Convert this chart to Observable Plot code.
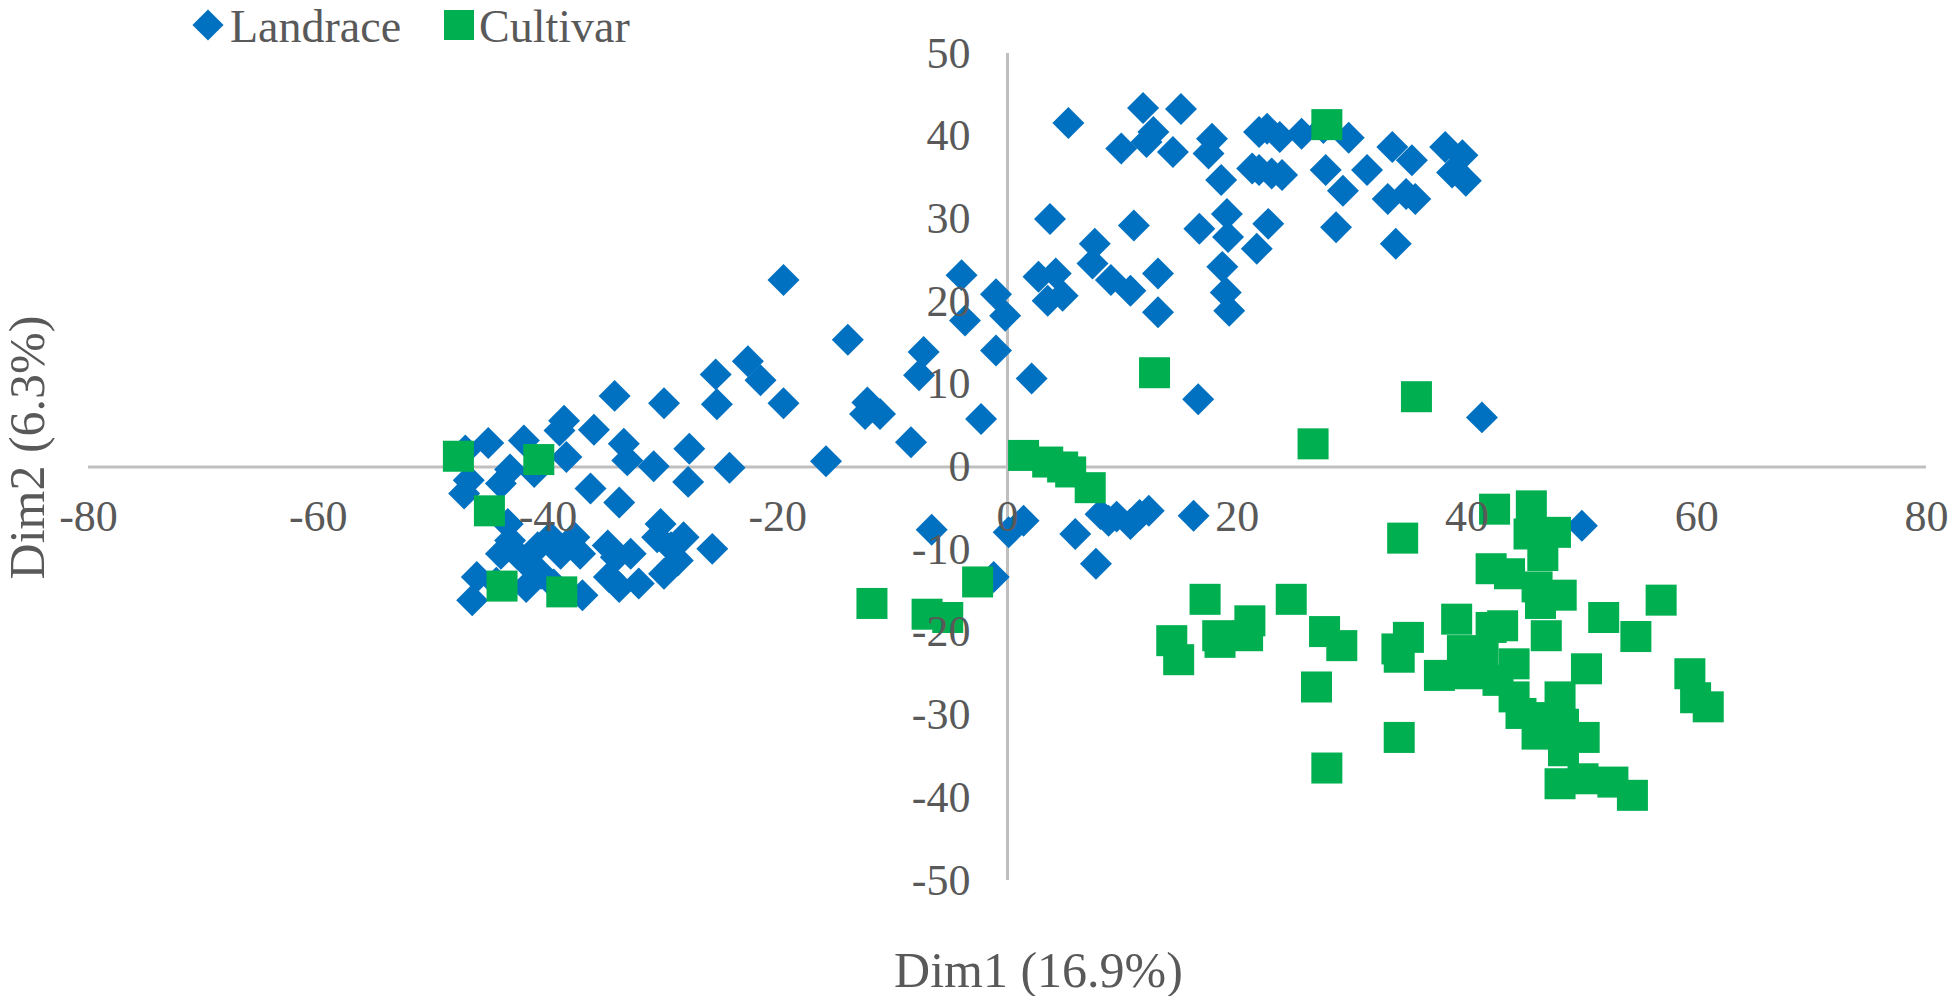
<!DOCTYPE html>
<html><head><meta charset="utf-8">
<script src="https://cdn.jsdelivr.net/npm/d3@7"></script>
<script src="https://cdn.jsdelivr.net/npm/@observablehq/plot@0.6"></script>
<style>
body{margin:0;background:#fff;}
#wrap{position:relative;width:1952px;height:996px;overflow:hidden;}
.lt{position:absolute;font-family:"Liberation Serif","Times New Roman",serif;font-size:46px;color:#595959;line-height:51px;white-space:nowrap;}
.sym{position:absolute;}
</style></head>
<body><div id="wrap"></div>
<script>
const seriesNames = ["Landrace", "Cultivar"];
const seriesColors = ["#0070C0", "#00B050"];
const xTitle = "Dim1 (16.9%)";
const yTitle = "Dim2 (6.3%)";
const xTicks = [-80, -60, -40, -20, 0, 20, 40, 60, 80];
const yTicks = [-50, -40, -30, -20, -10, 0, 10, 20, 30, 40, 50];

const landrace = [
  [-47.2, 2.0], [-45.2, 2.9], [-42.1, 3.2], [-38.6, 5.6], [-39.0, 4.4], [-38.4, 1.2], [-36.0, 4.5],
  [-33.4, 2.8], [-33.1, 0.8], [-30.8, 0.1], [-27.7, 2.2], [-24.2, -0.1], [-27.8, -1.8], [-36.3, -2.6],
  [-33.8, -4.3], [-46.9, -1.6], [-47.3, -3.2], [-44.1, -2.0], [-43.3, -0.3], [-41.2, -0.6], [-43.5, -6.9],
  [-44.1, -10.5], [-42.7, -10.5], [-40.9, -9.7], [-39.8, -8.5], [-37.7, -8.5], [-38.9, -10.5], [-37.2, -10.5],
  [-34.8, -9.5], [-34.1, -10.9], [-32.8, -10.5], [-34.7, -13.3], [-33.8, -14.5], [-32.1, -14.1], [-30.2, -6.9],
  [-30.5, -8.5], [-28.2, -8.5], [-25.7, -9.9], [-29.3, -9.7], [-29.9, -12.9], [-28.7, -11.3], [-46.2, -13.3],
  [-46.6, -16.1], [-41.9, -14.5], [-40.6, -12.9], [-37.0, -15.5], [-42.1, -11.3], [-43.3, -8.9], [-44.5, -14.0],
  [-39.5, -14.2],
  [-34.2, 8.6], [-29.9, 7.7], [-25.3, 7.6], [-25.4, 11.2], [-22.6, 12.8], [-21.5, 10.5], [-19.5, 7.7],
  [-19.5, 22.6], [-13.9, 15.4], [-12.2, 7.8], [-12.4, 6.4], [-11.1, 6.4], [-8.4, 3.0], [-15.8, 0.7],
  [-7.3, 13.9], [-7.7, 11.1], [-2.3, 5.8], [-1.0, 14.1], [-4.0, 23.2], [-3.7, 17.7], [-1.0, 20.9],
  [-0.2, 18.3], [2.1, 10.7],
  [2.7, 23.0], [4.2, 23.4], [3.5, 20.1], [4.8, 20.7], [3.7, 30.0], [7.4, 24.6], [9.0, 22.6], [10.7, 21.3],
  [13.1, 23.4], [7.6, 27.0], [11.0, 29.2], [13.1, 18.7], [16.7, 28.8], [19.1, 30.6], [19.2, 27.8],
  [22.7, 29.4], [21.7, 26.4], [18.7, 24.2], [19.0, 21.1], [19.3, 18.9], [16.6, 8.2], [41.3, 6.0], [50.0, -7.1],
  [5.3, 41.6], [11.8, 43.4], [15.1, 43.3], [9.9, 38.5], [12.7, 40.5], [12.1, 39.3], [14.4, 38.1],
  [17.8, 39.7], [17.5, 37.9], [21.9, 40.5], [22.6, 40.9], [23.7, 39.9], [25.6, 40.3], [29.7, 39.8],
  [18.6, 34.7], [21.3, 36.1], [21.9, 35.9], [23.0, 35.5], [23.9, 35.3], [27.7, 35.9], [29.2, 33.4],
  [31.3, 35.9], [33.5, 38.7], [35.2, 37.1], [33.1, 32.4], [35.5, 32.4], [34.7, 33.0], [38.1, 38.7],
  [39.6, 37.7], [38.7, 35.6], [39.9, 34.6], [28.6, 29.0], [33.8, 27.0], [27.5, 41.0],
  [-6.6, -7.6], [0.1, -7.9], [1.4, -6.5], [-1.2, -13.3], [5.9, -8.1], [7.7, -11.7], [8.8, -6.5],
  [10.7, -6.9], [12.3, -5.3], [8.1, -5.7], [16.2, -5.9], [9.5, -6.0], [11.5, -5.8]
];

const cultivar = [
  [-47.8, 1.3], [-40.8, 0.9], [-45.1, -5.3], [-44.0, -14.4], [-38.8, -15.1],
  [1.4, 1.4], [3.5, 0.6], [4.8, 0.0], [5.5, -0.6], [7.2, -2.5],
  [12.8, 11.4], [35.6, 8.5], [26.6, 2.8], [27.8, 41.4],
  [-2.6, -13.9], [-11.8, -16.5], [-7.0, -17.8], [-5.2, -18.2],
  [42.4, -5.1], [45.6, -4.7], [45.4, -8.1], [47.7, -7.9], [46.6, -10.7], [34.4, -8.6], [42.1, -12.3],
  [43.7, -12.9], [46.1, -14.5], [48.2, -15.5], [46.4, -16.5], [56.9, -16.1], [51.9, -18.2], [54.7, -20.5],
  [46.9, -20.4], [43.1, -19.2], [39.1, -18.4], [34.9, -20.6], [33.9, -22.0], [34.1, -23.0], [42.1, -19.4],
  [39.6, -22.2], [41.4, -22.6], [37.6, -25.2], [40.1, -25.0], [42.7, -25.8], [44.1, -23.8], [44.1, -27.8],
  [48.1, -27.8], [50.4, -24.4], [44.7, -29.8], [46.4, -30.3], [48.4, -31.1], [50.2, -32.7], [46.1, -32.3],
  [48.4, -34.3], [48.1, -38.3], [50.1, -37.7], [52.7, -38.1], [54.4, -39.7], [59.4, -25.0], [59.9, -27.9],
  [61.0, -29.0],
  [17.2, -16.0], [14.3, -21.0], [14.9, -23.3], [18.3, -20.4], [18.5, -21.2], [21.1, -18.6], [20.9, -20.4],
  [24.7, -16.0], [27.6, -19.9], [29.1, -21.6], [26.9, -26.6], [27.8, -36.4], [34.1, -32.7]
];

const textColor = "#595959";
const font = "'Liberation Serif','Times New Roman',serif";

const chart = Plot.plot({
  width: 1952,
  height: 996,
  marginLeft: 88,
  marginRight: 26,
  marginTop: 53,
  marginBottom: 116,
  x: {domain: [-80, 80], axis: null},
  y: {domain: [-50, 50], axis: null},
  style: {background: "white", fontFamily: font, overflow: "visible"},
  marks: [
    Plot.ruleY([0], {stroke: "#BFBFBF", strokeWidth: 3}),
    Plot.ruleX([0], {stroke: "#BFBFBF", strokeWidth: 3}),
    Plot.dot(landrace, {x: d => d[0], y: d => d[1], symbol: "diamond2", r: 14.4, fill: seriesColors[0], stroke: "none"}),
    Plot.dot(cultivar, {x: d => d[0], y: d => d[1], symbol: "square", r: 17.5, fill: seriesColors[1], stroke: "none"}),
    Plot.text(xTicks, {x: d => d, y: 0, text: d => String(d), dy: 50, fontSize: 44, fill: textColor}),
    Plot.text(yTicks, {x: 0, y: d => d, text: d => String(d), dx: -37, textAnchor: "end", fontSize: 44, fill: textColor}),
    Plot.text([xTitle], {frameAnchor: "bottom", text: d => d, dy: 106, dx: 31, textAnchor: "middle", lineAnchor: "bottom", fontSize: 50, fill: textColor}),
    Plot.text([yTitle], {frameAnchor: "left", text: d => d, rotate: -90, dx: -45, dy: -19.5, textAnchor: "middle", lineAnchor: "bottom", fontSize: 50, fill: textColor})
  ]
});

const wrap = document.getElementById("wrap");
wrap.appendChild(chart);

// Legend (HTML overlay at top)
const legendItems = [
  {name: seriesNames[0], color: seriesColors[0], shape: "diamond", cx: 208, tx: 230},
  {name: seriesNames[1], color: seriesColors[1], shape: "square", cx: 459, tx: 479}
];
for (const it of legendItems) {
  const s = document.createElement("div");
  s.className = "sym";
  if (it.shape === "diamond") {
    Object.assign(s.style, {left: (it.cx - 11) + "px", top: "14px", width: "22px", height: "22px", background: it.color, transform: "rotate(45deg)"});
  } else {
    Object.assign(s.style, {left: (it.cx - 15) + "px", top: "10px", width: "30px", height: "30px", background: it.color});
  }
  wrap.appendChild(s);
  const t = document.createElement("div");
  t.className = "lt";
  t.textContent = it.name;
  Object.assign(t.style, {left: it.tx + "px", top: "1px"});
  wrap.appendChild(t);
}
</script>
</body></html>
